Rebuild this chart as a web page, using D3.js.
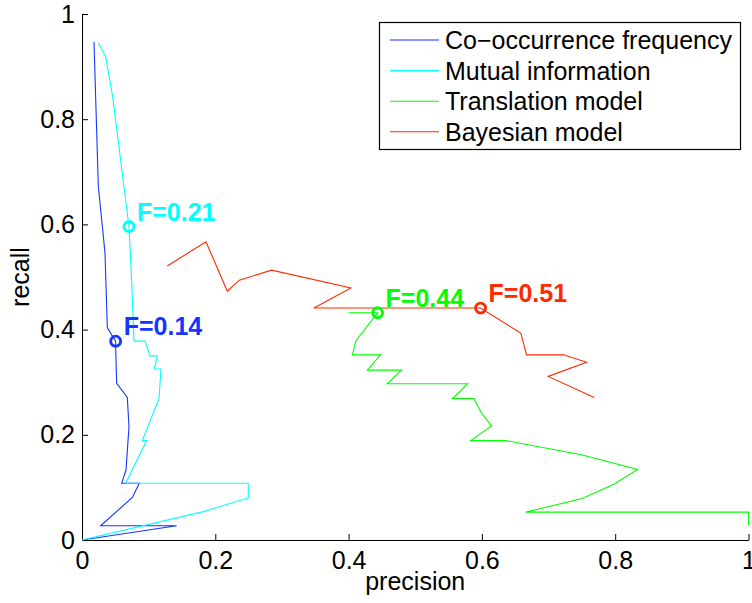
<!DOCTYPE html>
<html>
<head>
<meta charset="utf-8">
<script src="https://cdn.jsdelivr.net/npm/d3@7"></script>
<style>
  body { margin: 0; background: #fff; }
  svg text { font-family: "Liberation Sans", Arial, Helvetica, sans-serif; }
</style>
</head>
<body>
<svg id="chart" width="752" height="603"></svg>
<script>
// precision / recall pairs
const seriesNames = ['Co−occurrence frequency', 'Mutual information', 'Translation model', 'Bayesian model'];
const seriesColors = ['#1436ff', '#00ffff', '#00ff00', '#ff2a00'];

const cooccPrecision = [0.018, 0.0245, 0.0345, 0.038, 0.0445, 0.0505, 0.0505, 0.052, 0.068, 0.0705, 0.066, 0.0595, 0.086, 0.0755, 0.028, 0.142, 0];
const cooccRecall    = [0.947, 0.672, 0.546, 0.404, 0.39, 0.378, 0.367, 0.298, 0.271, 0.215, 0.133, 0.108, 0.108, 0.081, 0.027, 0.027, 0];

const mutualPrecision = [0.0245, 0.0355, 0.046, 0.0705, 0.0745, 0.078, 0.0945, 0.102, 0.113, 0.1085, 0.1185, 0.1155, 0.0905, 0.097, 0.0655, 0.2495, 0.2495, 0.182, 0];
const mutualRecall    = [0.945, 0.919, 0.843, 0.596, 0.494, 0.378, 0.378, 0.350, 0.350, 0.325, 0.325, 0.269, 0.189, 0.189, 0.108, 0.108, 0.080, 0.054, 0];

const transPrecision = [0.40, 0.4435, 0.411, 0.4055, 0.448, 0.428, 0.4795, 0.458, 0.5785, 0.556, 0.588, 0.5995, 0.6145, 0.583, 0.6355, 0.7495, 0.8335, 0.798, 0.7505, 0.666, 1, 1];
const transRecall    = [0.432, 0.432, 0.379, 0.352, 0.352, 0.323, 0.323, 0.297, 0.297, 0.269, 0.269, 0.241, 0.217, 0.189, 0.189, 0.162, 0.134, 0.106, 0.079, 0.053, 0.053, 0.027];

const bayesPrecision = [0.128, 0.186, 0.218, 0.236, 0.2845, 0.4035, 0.348, 0.598, 0.6585, 0.667, 0.7225, 0.757, 0.6995, 0.7685];
const bayesRecall    = [0.521, 0.567, 0.473, 0.494, 0.513, 0.479, 0.441, 0.441, 0.393, 0.352, 0.352, 0.338, 0.311, 0.271];

// best F points (series index, precision, recall, label)
const fSeries    = [1, 0, 2, 3];
const fPrecision = [0.0705, 0.0505, 0.4435, 0.598];
const fRecall    = [0.596, 0.378, 0.432, 0.441];
const fLabels    = ['F=0.21', 'F=0.14', 'F=0.44', 'F=0.51'];

const xTicks = [0, 0.2, 0.4, 0.6, 0.8, 1];
const yTicks = [0, 0.2, 0.4, 0.6, 0.8, 1];

const curves = [
    [cooccPrecision, cooccRecall],
    [mutualPrecision, mutualRecall],
    [transPrecision, transRecall],
    [bayesPrecision, bayesRecall]
].map(([p, r]) => p.map((v, i) => ({p: v, r: r[i]})));

const svg = d3.select('#chart');
const x = d3.scaleLinear().domain([0, 1]).range([82, 748.5]);
const y = d3.scaleLinear().domain([0, 1]).range([540, 14]);
const fontSize = 25;

// axes (ticks point inward, matlab style)
const fmt = d => d === 0 || d === 1 ? String(d) : d3.format('.1f')(d);
svg.append('g')
    .attr('transform', `translate(0,${y(0)})`)
    .call(d3.axisBottom(x).tickValues(xTicks).tickFormat(fmt).tickSizeInner(-6).tickSizeOuter(0).tickPadding(11.5))
    .call(g => g.selectAll('text').attr('font-size', fontSize).attr('fill', '#000').attr('font-family', null))
    .call(g => g.selectAll('line, path').attr('stroke', '#000'));

svg.append('g')
    .attr('transform', `translate(${x(0)},0)`)
    .call(d3.axisLeft(y).tickValues(yTicks).tickFormat(fmt).tickSizeInner(-6).tickSizeOuter(0).tickPadding(7))
    .call(g => g.selectAll('text').attr('font-size', fontSize).attr('fill', '#000').attr('font-family', null))
    .call(g => g.selectAll('line, path').attr('stroke', '#000'));

svg.append('text')
    .attr('x', x(0.5)).attr('y', 590)
    .attr('text-anchor', 'middle').attr('font-size', fontSize)
    .text('precision');

svg.append('text')
    .attr('transform', `translate(29,${y(0.5)}) rotate(-90)`)
    .attr('text-anchor', 'middle').attr('font-size', fontSize)
    .text('recall');

// curves
const line = d3.line().x(d => x(d.p)).y(d => y(d.r));
svg.append('g').selectAll('path')
    .data(curves)
    .join('path')
    .attr('d', line)
    .attr('fill', 'none')
    .attr('stroke', (d, i) => seriesColors[i])
    .attr('stroke-width', 1.1);

// F markers + labels
const fData = fSeries.map((s, i) => ({s, p: fPrecision[i], r: fRecall[i], label: fLabels[i]}));
const marks = svg.append('g').selectAll('g')
    .data(fData)
    .join('g')
    .attr('transform', d => `translate(${x(d.p)},${y(d.r)})`);
marks.append('circle')
    .attr('r', 5)
    .attr('fill', 'none')
    .attr('stroke', d => seriesColors[d.s])
    .attr('stroke-width', 2.8);
marks.append('text')
    .attr('x', 8).attr('y', -6)
    .attr('font-size', fontSize).attr('font-weight', 'bold')
    .attr('fill', d => seriesColors[d.s])
    .text(d => d.label);

// legend
const legend = svg.append('g');
legend.append('rect')
    .attr('x', 379.5).attr('y', 22.5)
    .attr('width', 361).attr('height', 127)
    .attr('fill', '#fff').attr('stroke', '#000').attr('stroke-width', 1.2);
const rows = legend.selectAll('g.row')
    .data(seriesNames)
    .join('g')
    .attr('class', 'row')
    .attr('transform', (d, i) => `translate(0,${40 + i * 30.6})`);
rows.append('line')
    .attr('x1', 390).attr('x2', 439)
    .attr('stroke', (d, i) => seriesColors[i])
    .attr('stroke-width', 1.1);
rows.append('text')
    .attr('x', 445).attr('y', 9)
    .attr('font-size', fontSize)
    .text(d => d);
</script>
</body>
</html>
